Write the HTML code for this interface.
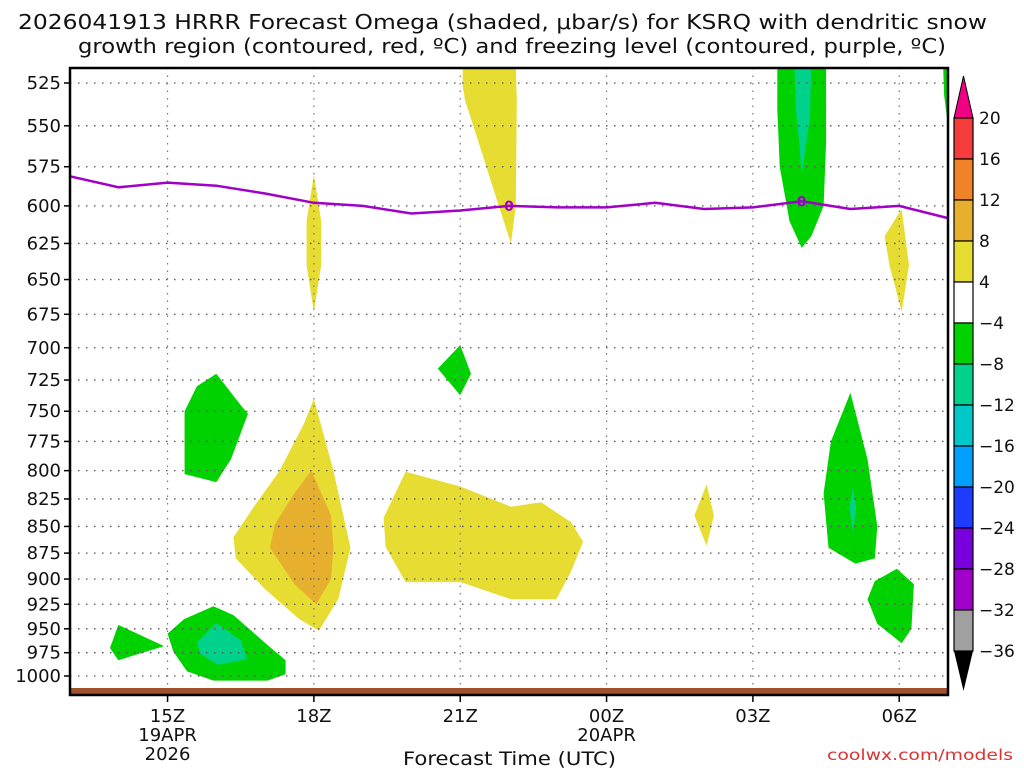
<!DOCTYPE html>
<html><head><meta charset="utf-8"><style>
body{margin:0;background:#fff;}
svg{display:block;}
text{font-family:"DejaVu Sans","Liberation Sans",sans-serif;fill:#111;}
</style></head><body>
<svg id="chart" width="1024" height="768" xmlns="http://www.w3.org/2000/svg">
<text x="18" y="29" font-size="20" textLength="969" lengthAdjust="spacingAndGlyphs">2026041913 HRRR Forecast Omega (shaded, μbar/s) for KSRQ with dendritic snow</text>
<text x="78" y="53" font-size="20" textLength="868" lengthAdjust="spacingAndGlyphs">growth region (contoured, red, ºC) and freezing level (contoured, purple, ºC)</text>
<g id="shades"></g>
<g id="grid"></g>
<g id="frz"></g>
<rect x="70" y="688" width="878" height="7" fill="#a0522d"/>
<rect x="70" y="68" width="878" height="627" fill="none" stroke="#000" stroke-width="2.5"/>
<g id="axes"></g>
<g id="cbar"></g>
<text x="403" y="765" font-size="19" textLength="213" lengthAdjust="spacingAndGlyphs">Forecast Time (UTC)</text>
<text x="827" y="760" font-size="15" textLength="186" lengthAdjust="spacingAndGlyphs" style="fill:#e03030">coolwx.com/models</text>
</svg>
<script>
const pLevels=[525,550,575,600,625,650,675,700,725,750,775,800,825,850,875,900,925,950,975,1000];
const xTickHours=[15,18,21,24,27,30];
const xTickLabels=["15Z","18Z","21Z","00Z","03Z","06Z"];
const xSubLabels=[["19APR","2026"],[],[],["20APR"],[],[]];
const frzHours=[13,14,15,16,17,18,19,20,21,22,23,24,25,26,27,28,29,30,31];
const frzPres=[581,588,585,587,592,598,600,605,603,600,601,601,598,602,601,597,602,600,608];
const frzLabelHours=[22,28];
const cbLevels=["20","16","12","8","4","−4","−8","−12","−16","−20","−24","−28","−32","−36"];
const cbColors=["#f53c3c","#f08228","#e6af2d","#e6dc32","#ffffff","#00d200","#00d28c","#00c8c8","#00a0ff","#1e3cff","#7800dc","#a000c8","#a0a0a0"];
// omega contour regions: [color, [[hour, hPa],...]]
const regions=[
["#e6dc32",[[21.05,515],[22.14,515],[22.16,535],[22.14,600],[22.04,625],[21.73,594],[21.42,564],[21.1,535],[21.05,527]]],
["#00d200",[[27.5,515],[28.5,515],[28.5,560],[28.45,600],[28.2,620],[28.0,628],[27.75,610],[27.55,575],[27.5,540]]],
["#00d28c",[[27.85,515],[28.2,515],[28.17,545],[28.05,570],[28.0,580],[27.95,560],[27.88,540]]],
["#00d200",[[30.9,515],[31,515],[31,550],[30.92,532]]],
["#e6dc32",[[18,580],[18.15,610],[18.15,640],[18,673],[17.85,640],[17.85,610]]],
["#e6dc32",[[30.05,602],[30.2,640],[30.05,673],[29.8,640],[29.7,620]]],
["#00d200",[[21,698],[21.22,720],[21,737],[20.54,716]]],
["#00d200",[[16,720],[16.5,745],[16.65,752],[16.3,790],[16,810],[15.35,803],[15.35,750],[15.6,730]]],
["#e6dc32",[[18,740],[18.4,800],[18.75,870],[18.5,920],[18.1,952],[17.7,940],[17,910],[16.4,880],[16.35,860],[16.8,830],[17.3,800],[17.8,760]]],
["#e6af2d",[[17.95,800],[18.35,840],[18.4,870],[18.35,900],[18.05,925],[17.6,905],[17.1,870],[17.2,848],[17.6,820]]],
["#e6dc32",[[19.43,842],[19.88,801],[21.01,814],[22.04,832],[22.66,828],[23.27,846],[23.52,864],[23.27,893],[22.97,920],[22.04,920],[21.01,903],[19.88,903],[19.47,869]]],
["#e6dc32",[[26.05,812],[26.2,840],[26.05,868],[25.8,840]]],
["#00d200",[[29.0,735],[29.35,790],[29.55,850],[29.5,880],[29.1,885],[28.55,870],[28.45,820],[28.6,775]]],
["#00d28c",[[29.05,815],[29.12,833],[29.05,855],[28.98,833]]],
["#00d200",[[29.5,902],[29.95,890],[30.3,905],[30.25,950],[30.05,965],[29.55,945],[29.35,920]]],
["#00d200",[[13.99,946],[14.93,968],[13.99,983],[13.82,970]]],
["#00d200",[[15,955],[15.34,940],[15.94,927],[16.35,936],[17.05,967],[17.42,983],[17.42,998],[17.05,1005],[15.94,1005],[15.4,995],[15.12,974]]],
["#00d28c",[[16,944],[16.5,962],[16.63,982],[16.03,988],[15.67,976],[15.6,964]]]
];
const NS="http://www.w3.org/2000/svg";
const X0=70,X1=948,H0=13,H1=31,Y525=83,Y1000=676;
function xs(h){return X0+(h-H0)*(X1-X0)/(H1-H0);}
function ys(p){return Y525+(Math.log(p)-Math.log(525))/(Math.log(1000)-Math.log(525))*(Y1000-Y525);}
function mk(tag,attrs,parent){const e=document.createElementNS(NS,tag);for(const k in attrs)e.setAttribute(k,attrs[k]);parent.appendChild(e);return e;}
const shades=document.getElementById('shades');
const clip=mk('clipPath',{id:'pc'},document.getElementById('chart'));
mk('rect',{x:X0,y:68,width:X1-X0,height:627},clip);
shades.setAttribute('clip-path','url(#pc)');
regions.forEach((r,i)=>{
  const pg=mk('polygon',{points:r[1].map(q=>xs(q[0]).toFixed(1)+','+ys(q[1]).toFixed(1)).join(' '),fill:r[0]},shades);
  
  
});
const grid=document.getElementById('grid'),axes=document.getElementById('axes');
pLevels.forEach(p=>{
  const y=ys(p);
  const gl=mk('line',{x1:X0,x2:X1,y1:y,y2:y,stroke:'#555','stroke-width':1.3,'stroke-dasharray':'1.5 6.5'},grid);
  
  
  mk('line',{x1:X0-6,x2:X0,y1:y,y2:y,stroke:'#000','stroke-width':1.5},axes);
  const t=mk('text',{x:X0-9,y:y+6,'font-size':18,'text-anchor':'end'},axes);
  t.textContent=p;
  
  
});
xTickHours.forEach((h,i)=>{
  const x=xs(h);
  const gl=mk('line',{x1:x,x2:x,y1:68,y2:695,stroke:'#777','stroke-width':1.2,'stroke-dasharray':'1.5 6'},grid);
  
  
  mk('line',{x1:x,x2:x,y1:695,y2:702,stroke:'#000','stroke-width':1.5},axes);
  const t=mk('text',{x:x,y:722,'font-size':18,'text-anchor':'middle'},axes);
  t.textContent=xTickLabels[i];
  
  
  xSubLabels[i].forEach((s,j)=>{
    const u=mk('text',{x:x,y:741+j*19,'font-size':18,'text-anchor':'middle'},axes);
    u.textContent=s;
    
    
  });
});
const frz=document.getElementById('frz');
const fl=mk('polyline',{points:frzHours.map((h,i)=>xs(h).toFixed(1)+','+ys(frzPres[i]).toFixed(1)).join(' '),fill:'none',stroke:'#a000c8','stroke-width':2.5},frz);


frzLabelHours.forEach(h=>{
  const i=frzHours.indexOf(h);
  const t=mk('text',{x:xs(h),y:ys(frzPres[i])+5,'font-size':14,'text-anchor':'middle','font-weight':'bold'},frz);
  t.style.fill='#a000c8';
  t.textContent='0';
  
  
});
const cb=document.getElementById('cbar');
const CX=954,CW=19,CT=118,CS=41;
mk('polygon',{points:`${CX},${CT} ${CX+CW},${CT} ${CX+CW/2},${CT-42}`,fill:'#f00082',stroke:'#000','stroke-width':1},cb);
cbColors.forEach((c,i)=>{
  const r=mk('rect',{x:CX,y:CT+i*CS,width:CW,height:CS,fill:c,stroke:'#000','stroke-width':1.2},cb);
  
  
});
const cbBot=CT+cbColors.length*CS;
mk('polygon',{points:`${CX},${cbBot} ${CX+CW},${cbBot} ${CX+CW/2},${cbBot+40}`,fill:'#000'},cb);
cbLevels.forEach((l,i)=>{
  const t=mk('text',{x:CX+CW+6,y:CT+i*CS+6,'font-size':17},cb);
  t.textContent=l;
  
  
});
</script>
</body></html>
